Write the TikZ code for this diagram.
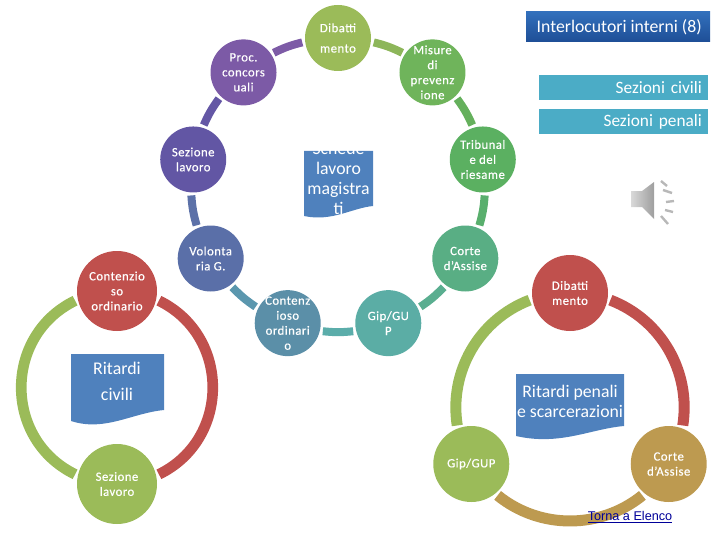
\documentclass[tikz,border=0pt]{standalone}
\usepackage{fontspec}
\usepackage{xcolor}
\setmainfont{Carlito}
\newfontfamily\stagefont[LetterSpace=4,FakeBold=0.5]{Carlito}
\newfontfamily\linkfont{Liberation Sans}
\usetikzlibrary{calc}
\definecolor{olive}{HTML}{9BBB59}
\definecolor{brick}{HTML}{C0504D}
\definecolor{ochre}{HTML}{BD9A50}
\definecolor{docblue}{HTML}{4F81BD}
\definecolor{teal}{HTML}{4BACC6}

\begin{document}
\begin{tikzpicture}[
  x=0.75pt, y=0.75pt,
  stage/.style={circle, minimum size=49.5pt, inner sep=0pt, outer sep=2.25pt},
  bigstage/.style={circle, minimum size=60pt, inner sep=0pt, outer sep=2.25pt},
  midstage/.style={circle, minimum size=57pt, inner sep=0pt, outer sep=2.25pt},
  stagetext/.style={text=white, align=center, inner sep=0pt,
            font=\stagefont\fontsize{9.5}{11.25}\selectfont},
  seg/.style={line width=6pt},
  midseg/.style={line width=8.25pt},
  bigseg/.style={line width=8pt},
  doctext/.style={text=white, align=center, inner sep=0pt},
  sidebox/.style={fill=teal, text=white, anchor=east, align=right, inner sep=0pt,
            minimum height=18.75pt, minimum width=126.75pt, text width=118pt,
            font=\fontsize{13}{14}\selectfont},
  wave/.style={line width=1.8pt, draw=black!28}
]
\useasboundingbox (0,0) rectangle (720,540);

% Large ring, nine stages
\def\radius{147}
\begin{scope}[shift={(338,355)}]
\node[stage,fill=olive,label={[stagetext]center:{Dibatti\\[4pt]mento}}] (dib) at (90:\radius) {};
\node[stage,fill={rgb,255:red,111;green,180;blue,91},label={[stagetext]center:{Misure\\di\\prevenz\\ione}}] (mis) at (50:\radius) {};
\node[stage,fill={rgb,255:red,91;green,176;blue,97},label={[stagetext]center:{Tribunal\\e del\\riesame}}] (tri) at (10:\radius) {};
\node[stage,fill={rgb,255:red,89;green,174;blue,132},label={[stagetext]center:{Corte\\d’Assise}}] (cor) at (-30:\radius) {};
\node[stage,fill={rgb,255:red,91;green,173;blue,165},label={[stagetext]center:{Gip/GU\\P}}] (gip) at (-70:\radius) {};
\node[stage,fill={rgb,255:red,91;green,143;blue,168},label={[stagetext]center:{Contenz\\ioso\\ordinari\\o}}] (con) at (-110:\radius) {};
\node[stage,fill={rgb,255:red,90;green,111;blue,168},label={[stagetext]center:{Volonta\\ria G.}}] (vol) at (-150:\radius) {};
\node[stage,fill={rgb,255:red,98;green,86;blue,164},label={[stagetext]center:{Sezione\\lavoro}}] (sez) at (170:\radius) {};
\node[stage,fill={rgb,255:red,124;green,90;blue,166},label={[stagetext]center:{Proc.\\concors\\uali}}] (pro) at (130:\radius) {};
\end{scope}

% Segments between the stages
\draw[seg, draw={rgb,255:red,141;green,182;blue,90}] (dib.-7) to[bend left=6] (mis.147);
\draw[seg, draw={rgb,255:red,101;green,176;blue,92}] (mis.-47) to[bend left=6] (tri.107);
\draw[seg, draw={rgb,255:red,89;green,175;blue,109}] (tri.-87) to[bend left=6] (cor.67);
\draw[seg, draw={rgb,255:red,90;green,174;blue,144}] (cor.-127) to[bend left=6] (gip.27);
\draw[seg, draw={rgb,255:red,91;green,173;blue,170}] (gip.-167) to[bend left=6] (con.-13);
\draw[seg, draw={rgb,255:red,91;green,151;blue,174}] (con.153) to[bend left=6] (vol.-53);
\draw[seg, draw={rgb,255:red,92;green,113;blue,168}] (vol.113) to[bend left=6] (sez.-93);
\draw[seg, draw={rgb,255:red,100;green,87;blue,165}] (sez.73) to[bend left=6] (pro.-133);
\draw[seg, draw={rgb,255:red,125;green,91;blue,166}] (pro.33) to[bend left=6] (dib.187);

% Centre of the large ring
\fill[docblue] (304,389) -- (373,389) -- (373,334)
  .. controls (352,332) and (332,318) .. (304,324) -- cycle;
\node[doctext, font=\fontsize{13.3}{15}\selectfont] (schede) at (338.5,362) {Schede\\lavoro\\magistra\\ti};

% Ritardi civili
\node[bigstage,fill=brick,label={[stagetext]center:{Contenzio\\so\\ordinario}}] (civtop) at (117,249) {};
\node[bigstage,fill=olive,label={[stagetext]center:{Sezione\\lavoro}}] (civbot) at (117,56) {};
\draw[bigseg, draw=brick] (civtop.-13) to[bend left=64, looseness=1.18] (civbot.13);
\draw[bigseg, draw=olive] (civbot.167) to[bend left=64, looseness=1.18] (civtop.193);
\fill[docblue] (71,186) -- (164,186) -- (164,130)
  .. controls (132,127) and (105,108) .. (71,119) -- cycle;
\node[doctext, font=\fontsize{13.4}{20}\selectfont] (civdoc) at (117,158.5) {Ritardi\\civili};

% Ritardi penali
\begin{scope}[shift={(570,133)}]
\node[midstage,fill=brick,label={[stagetext]center:{Dibatti\\mento}}] (pentop) at (90:114) {};
\node[midstage,fill=ochre,label={[stagetext]center:{Corte\\d’Assise}}] (penrgt) at (-30:114) {};
\node[midstage,fill=olive,label={[stagetext]center:{Gip/GUP}}] (penlft) at (-150:114) {};
\end{scope}
\draw[midseg, draw=brick] (pentop.-10) to[bend left=39, looseness=0.96] (penrgt.70);
\draw[midseg, draw=ochre] (penrgt.-130) to[bend left=39, looseness=0.96] (penlft.-50);
\draw[midseg, draw=olive] (penlft.110) to[bend left=39, looseness=0.96] (pentop.190);
\fill[docblue] (516,166) -- (624,166) -- (624,114)
  .. controls (590,111) and (560,94) .. (516,104) -- cycle;
\node[doctext, font=\fontsize{13.3}{15}\selectfont] (pendoc) at (570,139) {Ritardi penali\\e scarcerazioni};

% Boxes on the right
\shade[top color={rgb,255:red,50;green,112;blue,188}, bottom color={rgb,255:red,30;green,78;blue,150}] (526,528) rectangle (710,498);
\node[text=white, anchor=east, inner sep=0pt, font=\fontsize{13.3}{14}\selectfont] (inter) at (702,513) {Interlocutori interni (8)};
\node[sidebox] (civili) at (708,452.5) {Sezioni civili};
\node[sidebox] (penali) at (708,418.5) {Sezioni penali};

% Speaker
\shade[left color=black!15, right color=black!38] (631,349) -- (642,349) -- (654,358) -- (654,321) -- (642,333) -- (631,333) -- cycle;
\draw[wave] (661,359) -- (667,354);
\draw[wave] (663,350) -- (672,347);
\draw[wave] (666,338) -- (674,339);
\draw[wave] (665,330) -- (673,328);
\draw[wave] (661,324) -- (668,316);

% Link
\node[inner sep=0pt, text={rgb,255:red,0;green,0;blue,153}, font=\linkfont\fontsize{9.5}{11}\selectfont] (torna) at (630,22.5) {\underline{Torna a Elenco}};
\end{tikzpicture}
\end{document}
